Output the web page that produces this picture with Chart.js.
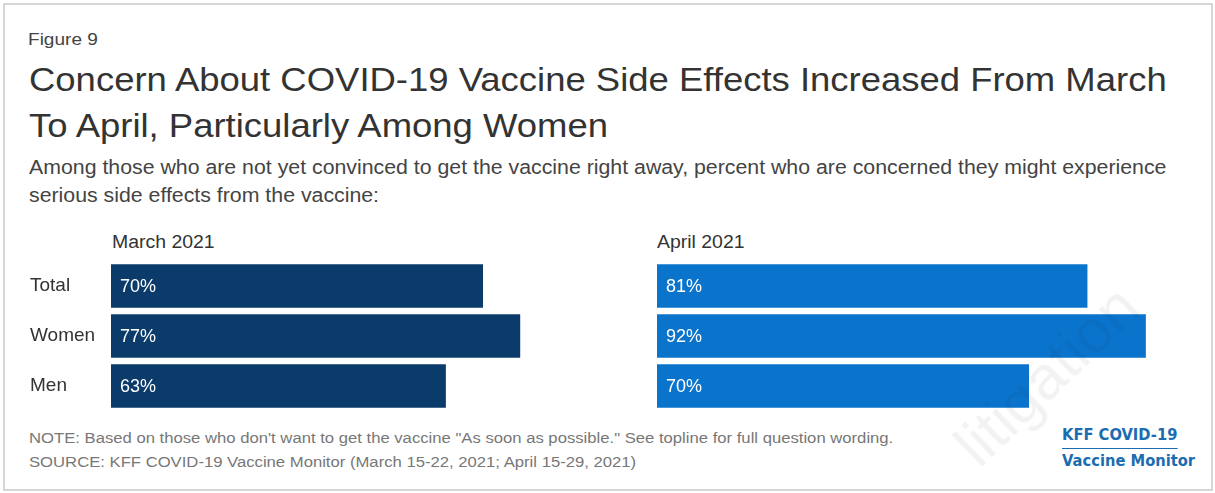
<!DOCTYPE html>
<html>
<head>
<meta charset="utf-8">
<script src="https://cdn.jsdelivr.net/npm/chart.js@4.4.1/dist/chart.umd.min.js"></script>
<style>
  html, body { margin: 0; padding: 0; background: #fff; }
  body { width: 1215px; height: 493px; position: relative; overflow: hidden;
         font-family: "Liberation Sans", Arial, sans-serif; }
  .frame { position: absolute; left: 3px; top: 3px; width: 1206px; height: 484px;
           border: 2px solid #d6d6d6; }
  .txt { position: absolute; white-space: nowrap; transform-origin: 0 50%; }
  #fig { left: 28px; top: 30px; font-size: 17px; line-height: 20px; color: #444; transform: scaleX(1.12); }
  #title { left: 29px; top: 57px; font-size: 33px; line-height: 46px; color: #333; transform: scaleX(1.105); }
  #sub { left: 29px; top: 153px; font-size: 20px; line-height: 28px; color: #444; transform: scaleX(1.065); }
  .head { top: 231px; font-size: 18px; line-height: 22px; color: #333; transform: scaleX(1.08); }
  #note { left: 29px; top: 426px; font-size: 14px; line-height: 24px; color: #777; transform: scaleX(1.19); }
  #logo { left: 1062px; top: 426px; font-family: "DejaVu Sans", sans-serif; font-weight: bold;
          font-size: 15px; line-height: 18px; color: #1c6cb1; transform: scaleX(0.98); }
  #logo .rule { width: 118px; height: 1px; background: #1c6cb1; margin: 4px 0 3px 0; }
  #wm { left: 943px; top: 432px; font-size: 62px; line-height: 62px; color: rgba(0,0,0,0.05);
        transform: rotate(-44deg); transform-origin: 0 0; }
  canvas { position: absolute; }
</style>
</head>
<body>
<div class="frame"></div>
<div class="txt" id="fig">Figure 9</div>
<div class="txt" id="title">Concern About COVID-19 Vaccine Side Effects Increased From March<br>To April, Particularly Among Women</div>
<div class="txt" id="sub">Among those who are not yet convinced to get the vaccine right away, percent who are concerned they might experience<br>serious side effects from the vaccine:</div>
<div class="txt head" style="left:112px">March 2021</div>
<div class="txt head" style="left:657px">April 2021</div>
<div style="position:absolute;left:30px;top:261px;width:612px;height:150px"><canvas id="march"></canvas></div>
<div style="position:absolute;left:657px;top:261px;width:531px;height:150px"><canvas id="april"></canvas></div>
<div class="txt" id="note">NOTE: Based on those who don't want to get the vaccine "As soon as possible." See topline for full question wording.<br>SOURCE: KFF COVID-19 Vaccine Monitor (March 15-22, 2021; April 15-29, 2021)</div>
<div class="txt" id="logo">KFF COVID-19<div class="rule"></div>Vaccine Monitor</div>
<div class="txt" id="wm">litigation</div>

<script>
const groups = ['Total', 'Women', 'Men'];
const march2021 = [70, 77, 63];
const april2021 = [81, 92, 70];

const NAVY = '#0b3b6b';
const BLUE = '#0a74cd';

// white percent labels just inside the start of each bar
const insideLabels = {
  id: 'insideLabels',
  afterDatasetsDraw(chart) {
    const ctx = chart.ctx;
    const ds = chart.data.datasets[0];
    ctx.save();
    ctx.font = '18px "Liberation Sans", Arial, sans-serif';
    ctx.fillStyle = '#ffffff';
    ctx.textBaseline = 'middle';
    ctx.textAlign = 'left';
    chart.getDatasetMeta(0).data.forEach((bar, i) => {
      ctx.fillText(ds.data[i] + '%', bar.base + 9, bar.y + 1);
    });
    ctx.restore();
  }
};

function renderBars(canvasId, values, color, showGroups) {
  const ctx = document.getElementById(canvasId).getContext('2d');
  return new Chart(ctx, {
    type: 'bar',
    data: {
      labels: groups,
      datasets: [{
        data: values,
        backgroundColor: color,
        borderWidth: 0,
        barThickness: 43
      }]
    },
    options: {
      indexAxis: 'y',
      responsive: true,
      maintainAspectRatio: false,
      animation: false,
      layout: { padding: 0 },
      plugins: { legend: { display: false }, tooltip: { enabled: false } },
      scales: {
        x: { display: false, min: 0, max: 100 },
        y: {
          display: showGroups,
          grid: { display: false, drawTicks: false },
          border: { display: false },
          ticks: {
            crossAlign: 'far',
            padding: 0,
            color: '#333',
            font: { family: '"Liberation Sans", Arial, sans-serif', size: 19 }
          },
          afterFit(scale) {
            scale.width = showGroups ? 81 : 0;
            scale.paddingTop = 0;
            scale.paddingBottom = 0;
          }
        }
      }
    },
    plugins: [insideLabels]
  });
}

renderBars('march', march2021, NAVY, true);
renderBars('april', april2021, BLUE, false);
</script>
</body>
</html>
